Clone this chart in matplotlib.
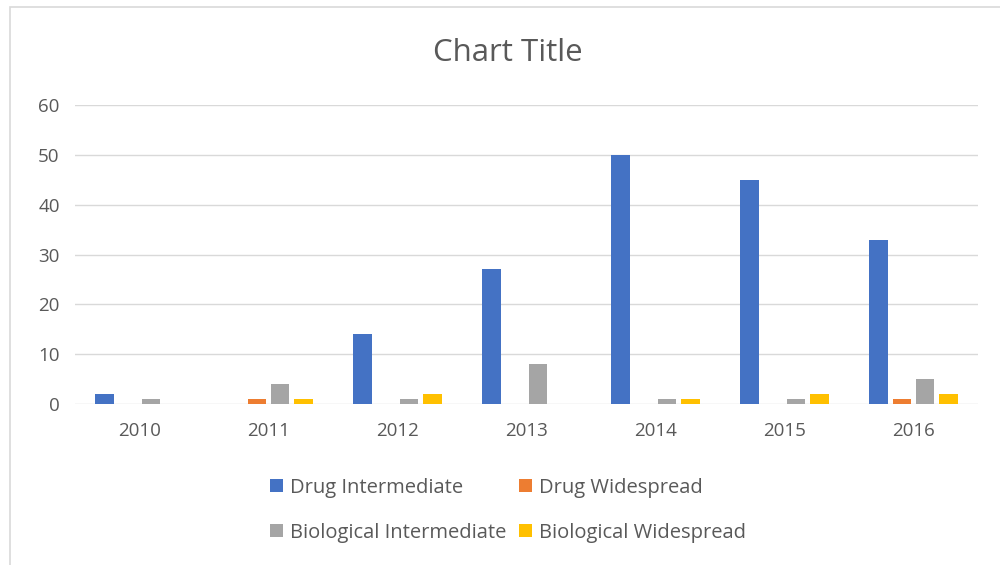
import matplotlib.pyplot as plt
import numpy as np
from matplotlib.patches import Rectangle

years = ["2010", "2011", "2012", "2013", "2014", "2015", "2016"]
drug_intermediate = [2, 0, 14, 27, 50, 45, 33]
drug_widespread = [0, 1, 0, 0, 0, 0, 1]
bio_intermediate = [1, 4, 1, 8, 1, 1, 5]
bio_widespread = [0, 1, 2, 0, 1, 2, 2]

series = [
    ("Drug Intermediate", drug_intermediate, "#4472C4"),
    ("Drug Widespread", drug_widespread, "#ED7D31"),
    ("Biological Intermediate", bio_intermediate, "#A5A5A5"),
    ("Biological Widespread", bio_widespread, "#FFC000"),
]

plt.rcParams['font.family'] = ['Open Sans', 'DejaVu Sans']
txt = "#595959"

fig = plt.figure(figsize=(10, 5.65), dpi=100)
# light chart-area frame (top-left visible only)
fig.patches.append(Rectangle((0.010, -0.1), 1.2, 1.0876,
                             transform=fig.transFigure, fill=False,
                             edgecolor="#d9d9d9", linewidth=1.2))
ax = fig.add_axes([0.075, 0.285, 0.903, 0.529])

# excel-like bar geometry: gap width 219%, overlap -27%
w = 1 / (4 + 0.27 * 3 + 2.19)
step = 1.27 * w
x = np.arange(len(years))
bars = []
for i, (name, vals, col) in enumerate(series):
    bars.append(ax.bar(x + (i - 1.5) * step, vals, width=w, color=col, label=name, zorder=3))

ax.set_xlim(-0.5, len(years) - 0.5)
ax.set_ylim(0, 60)
ax.set_yticks(range(0, 61, 10))
ax.set_xticks(x)
ax.set_xticklabels(years)
ax.grid(axis="y", color="#d9d9d9", linewidth=1, zorder=0)
for s in ax.spines.values():
    s.set_visible(False)
ax.tick_params(length=0, colors=txt, labelsize=13.5)
ax.tick_params(axis="x", pad=13)
ax.tick_params(axis="y", pad=11)

fig.text(0.508, 0.907, "Chart Title", ha="center", va="center", fontsize=22.5, color=txt)

# legend fills column-wise, so order handles to get rows DI/DW and BI/BW
order = [0, 2, 1, 3]
fig.legend([bars[k] for k in order], [series[k][0] for k in order],
           loc="center", bbox_to_anchor=(0.508, 0.097), ncol=2, frameon=False,
           fontsize=14.5, labelcolor=txt, handlelength=0.65, handleheight=0.65,
           handletextpad=0.35, columnspacing=0.6, labelspacing=1.25)

fig.savefig("out.png", dpi=100)
